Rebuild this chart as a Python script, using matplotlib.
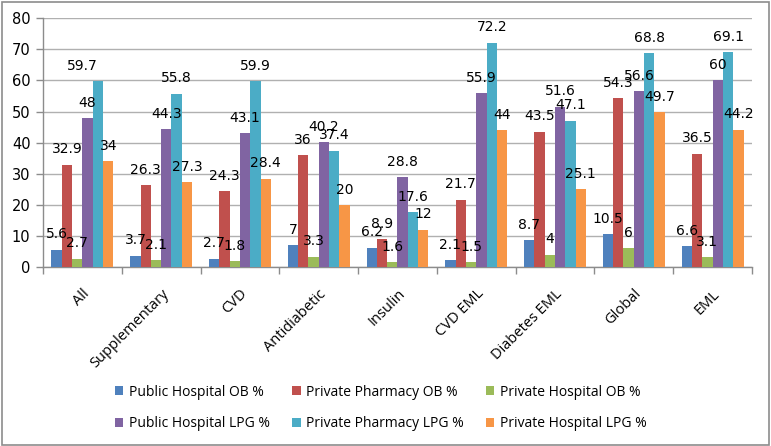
import matplotlib
matplotlib.use("Agg")
import matplotlib.pyplot as plt
import numpy as np
from matplotlib.patches import Rectangle

categories = ["All", "Supplementary", "CVD", "Antidiabetic", "Insulin",
              "CVD EML", "Diabetes EML", "Global", "EML"]
series_names = ["Public Hospital OB %", "Private Pharmacy OB %", "Private Hospital OB %",
                "Public Hospital LPG %", "Private Pharmacy LPG %", "Private Hospital LPG %"]
public_hospital_ob = [5.6, 3.7, 2.7, 7, 6.2, 2.1, 8.7, 10.5, 6.6]
private_pharmacy_ob = [32.9, 26.3, 24.3, 36, 8.9, 21.7, 43.5, 54.3, 36.5]
private_hospital_ob = [2.7, 2.1, 1.8, 3.3, 1.6, 1.5, 4, 6, 3.1]
public_hospital_lpg = [48, 44.3, 43.1, 40.2, 28.8, 55.9, 51.6, 56.6, 60]
private_pharmacy_lpg = [59.7, 55.8, 59.9, 37.4, 17.6, 72.2, 47.1, 68.8, 69.1]
private_hospital_lpg = [34, 27.3, 28.4, 20, 12, 44, 25.1, 49.7, 44.2]
series = [public_hospital_ob, private_pharmacy_ob, private_hospital_ob,
          public_hospital_lpg, private_pharmacy_lpg, private_hospital_lpg]
colors = ["#4F81BD", "#C0504D", "#9BBB59", "#8064A2", "#4BACC6", "#F79646"]
yticks = [0, 10, 20, 30, 40, 50, 60, 70, 80]

fig = plt.figure(figsize=(7.71, 4.46), dpi=100)
fig.patch.set_facecolor("white")
fig.patches.append(Rectangle((0.002, 0.003), 0.995, 0.993, transform=fig.transFigure,
                             fill=False, edgecolor="#8c8c8c", linewidth=1.2))
ax = fig.add_axes([0.0558, 0.4013, 0.9195, 0.5577])

n = len(series)
x = np.arange(len(categories))
bw = 0.131
handles = []
for i, (vals, col, name) in enumerate(zip(series, colors, series_names)):
    pos = x + (i - (n - 1) / 2) * bw
    bars = ax.bar(pos, vals, width=bw, color=col, label=name, zorder=3, linewidth=0)
    handles.append(bars)
    for j, (p, v) in enumerate(zip(pos, vals)):
        dx = -11 if (i == 4 and j == 0) else 0
        ax.annotate(f"{v:g}", (p, v), xytext=(dx, 11), textcoords="offset points",
                    ha="center", va="center", fontsize=10, color="black",
                    family="DejaVu Sans", zorder=5)

ax.set_xlim(-0.5, len(categories) - 0.5)
ax.set_ylim(0, 80)
ax.set_yticks(yticks)
ax.set_yticklabels([str(t) for t in yticks], fontsize=10.5, family="DejaVu Sans")
ax.yaxis.grid(True, color="#b0b0b0", linewidth=1, zorder=0)
ax.set_axisbelow(True)

ax.set_xticks(np.arange(-0.5, len(categories) + 0.5, 1), minor=False)
ax.set_xticklabels([])
ax.set_xticks(x, minor=True)
ax.set_xticklabels(categories, minor=True, rotation=45, ha="right",
                   rotation_mode="anchor", fontsize=10.5, family="Open Sans")
ax.tick_params(axis="x", which="minor", length=0, pad=14)
ax.tick_params(axis="x", which="major", length=5, color="#8c8c8c", width=1)
ax.tick_params(axis="y", length=5, color="#8c8c8c", width=1, pad=4)

for s in ["top", "right"]:
    ax.spines[s].set_visible(False)
for s in ["left", "bottom"]:
    ax.spines[s].set_color("#8c8c8c")
    ax.spines[s].set_linewidth(1)

order = [0, 3, 1, 4, 2, 5]
leg = fig.legend([handles[k] for k in order], [series_names[k] for k in order],
                 loc="center", bbox_to_anchor=(0.494, 0.085), ncol=3, frameon=False,
                 prop={"family": "Open Sans", "size": 10}, handlelength=0.6,
                 handleheight=0.6, handletextpad=0.4, columnspacing=1.6,
                 labelspacing=1.2)

fig.savefig("out.png", dpi=100, facecolor="white")
